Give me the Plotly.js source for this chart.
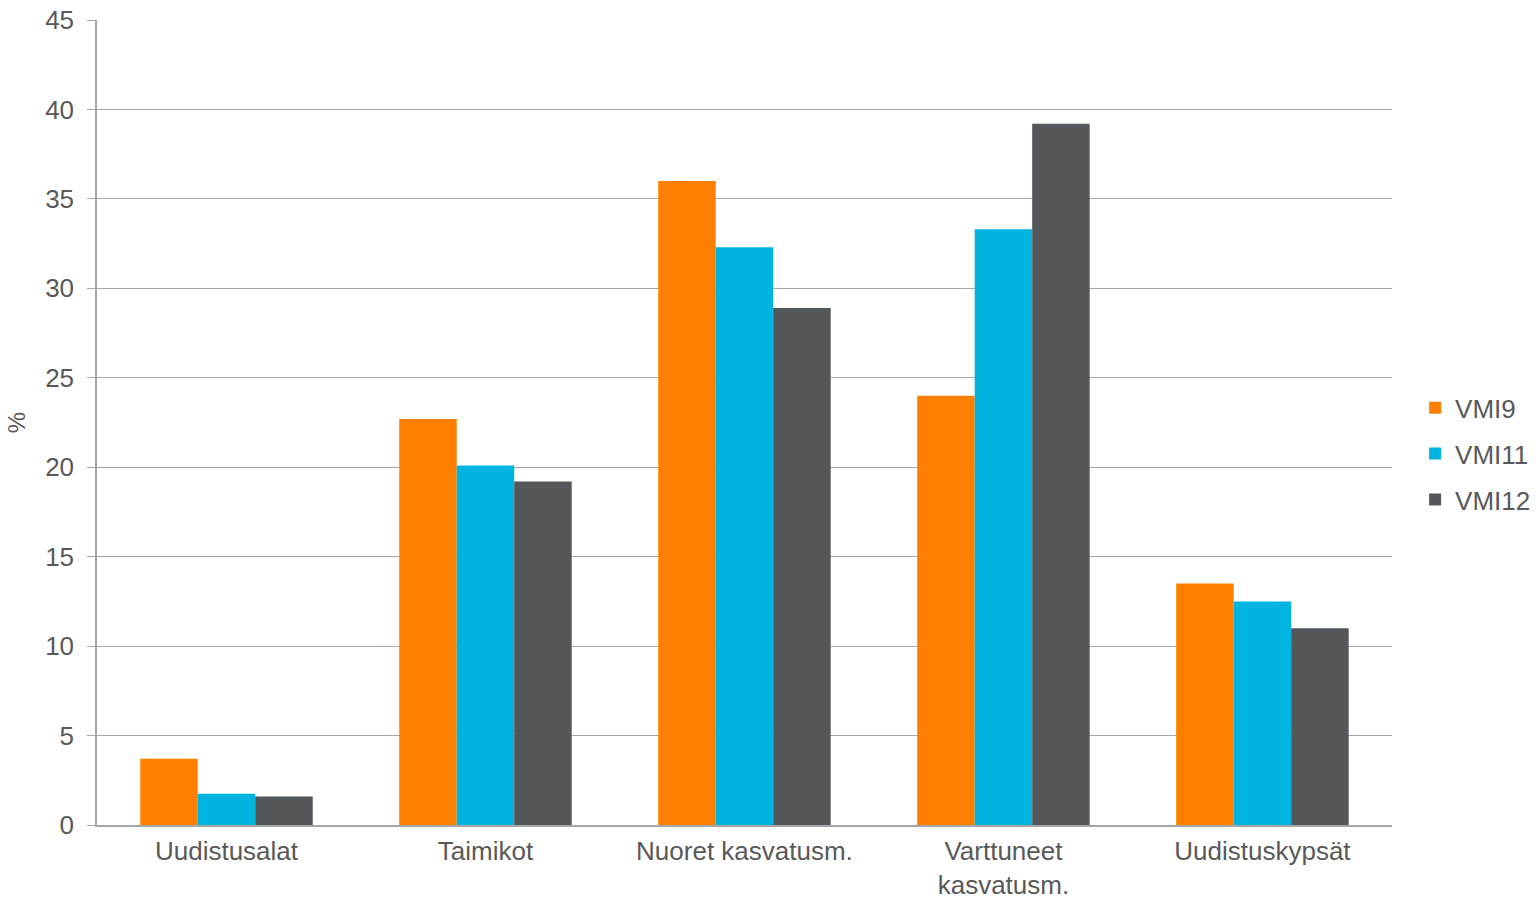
<!DOCTYPE html>
<html>
<head>
<meta charset="utf-8">
<script src="https://cdn.plot.ly/plotly-3.0.1.min.js"></script>
<style>html,body{margin:0;padding:0;background:#fff;}#chart{width:1539px;height:899px;}</style>
</head>
<body>
<div id="chart"></div>
<script>
const categories = ["Uudistusalat", "Taimikot", "Nuoret kasvatusm.", "Varttuneet<br>kasvatusm.", "Uudistuskypsät"];
const seriesNames = ["VMI9", "VMI11", "VMI12"];
const vmi9 = [3.7, 22.7, 36.0, 24.0, 13.5];
const vmi11 = [1.75, 20.1, 32.3, 33.3, 12.5];
const vmi12 = [1.6, 19.2, 28.9, 39.2, 11.0];
const yTicks = [0, 5, 10, 15, 20, 25, 30, 35, 40, 45];

const colors = ["#FF8000", "#00B4E0", "#53575A"];
const values = [vmi9, vmi11, vmi12];

const traces = values.map((v, i) => ({
  type: "bar",
  name: seriesNames[i],
  x: categories,
  y: v,
  marker: {color: colors[i], line: {width: 0}},
  legendgroup: "g" + i,
  hoverinfo: "y+name"
}));

const layout = {
  width: 1539,
  height: 899,
  margin: {l: 97, r: 0, t: 20, b: 74, pad: 0},
  paper_bgcolor: "#fff",
  plot_bgcolor: "#fff",
  font: {family: "Liberation Sans, Arial, sans-serif", color: "#595959", size: 26},
  barmode: "group",
  bargap: 0.334,
  bargroupgap: 0,
  showlegend: true,
  legend: {
    x: 0.998, xanchor: "right",
    y: 0.461, yanchor: "middle",
    font: {size: 26, color: "#595959"},
    tracegroupgap: 9,
    itemwidth: 30,
    bgcolor: "rgba(0,0,0,0)"
  },
  xaxis: {
    type: "category",
    domain: [0, 0.898],
    showgrid: false,
    showline: true,
    linecolor: "#A6A6A6",
    linewidth: 1.5,
    ticks: "",
    tickfont: {size: 26, color: "#595959"},
    ticklabelstandoff: 2,
    fixedrange: true
  },
  yaxis: {
    range: [0, 45],
    tickvals: yTicks,
    ticktext: yTicks.map(String),
    showgrid: true,
    gridcolor: "#A6A6A6",
    gridwidth: 1,
    showline: true,
    linecolor: "#A6A6A6",
    linewidth: 1.5,
    ticks: "outside",
    ticklen: 8,
    tickcolor: "#A6A6A6",
    tickfont: {size: 26, color: "#595959"},
    ticklabelstandoff: 8,
    zeroline: false,
    title: {text: "%", font: {size: 24, color: "#595959"}, standoff: 13},
    fixedrange: true
  }
};

Plotly.newPlot("chart", traces, layout, {displayModeBar: false, responsive: false});
</script>
</body>
</html>
